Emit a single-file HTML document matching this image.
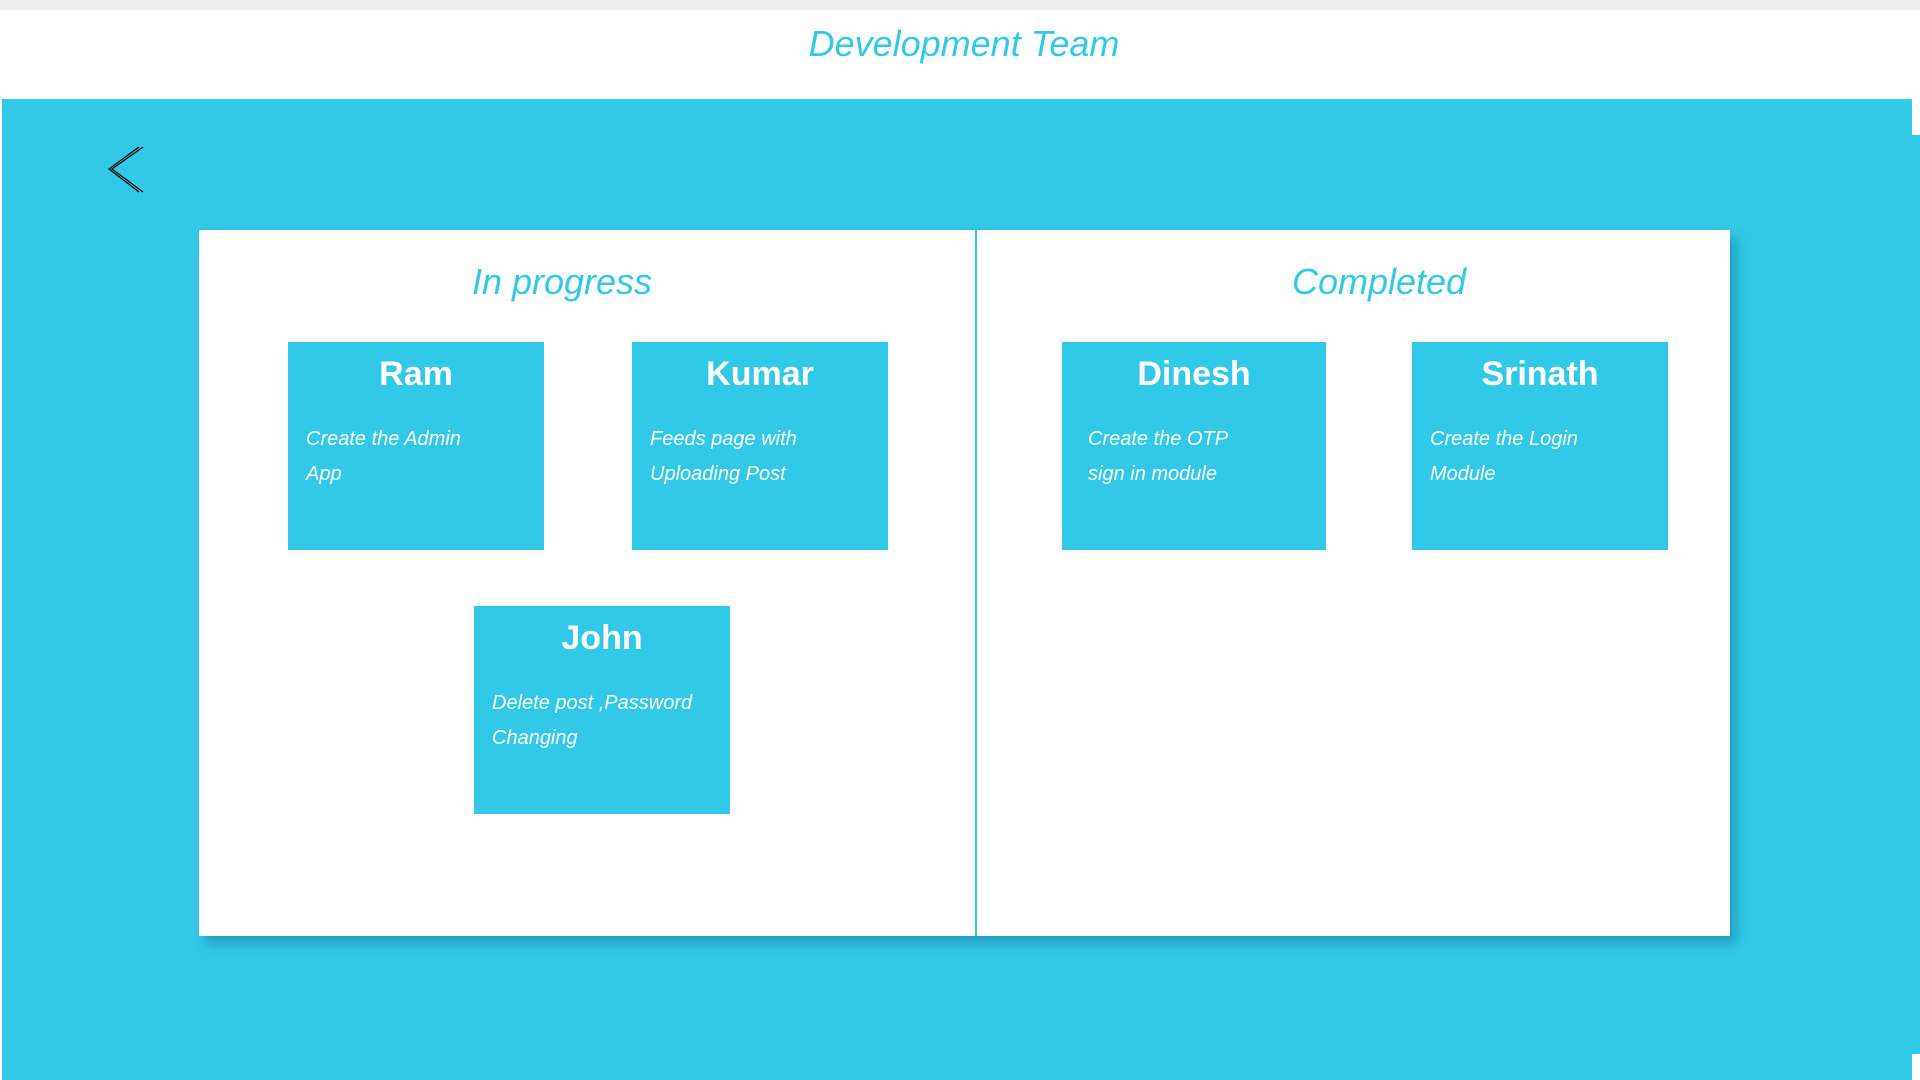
<!DOCTYPE html>
<html><head><meta charset="utf-8"><style>
*{margin:0;padding:0;box-sizing:border-box}
body{width:1920px;height:1080px;position:relative;background:#fff;overflow:hidden;font-family:"Liberation Sans","DejaVu Sans",sans-serif}
.gray{position:absolute;left:0;top:0;width:1920px;height:10px;background:#f0f0f0}
.hdr{position:absolute;left:0;top:12px;width:1912px;height:87px;text-align:center;color:#33c8e8;font-size:36px;font-style:italic;line-height:64px;padding-left:16px}
.blue{position:absolute;left:2px;top:99px;width:1910px;height:981px;background:#32c8e8}
.blue2{position:absolute;left:1912px;top:135px;width:8px;height:919px;background:#32c8e8}
.panel{position:absolute;left:199px;top:230px;width:1531px;height:706px;background:#fff;box-shadow:6px 8px 10px rgba(0,90,120,.35)}
.div{position:absolute;left:975px;top:230px;width:2px;height:706px;background:#32c8e8}
.t{position:absolute;color:#33c8e8;font-size:36px;font-style:italic;width:400px;text-align:center}
.card{position:absolute;width:256px;height:208px;background:#32c8e8;color:#fff}
.card h2{text-align:center;font-size:34px;font-weight:bold;margin-top:10px;line-height:44px}
.card p{font-size:20px;font-style:italic;line-height:35px;margin:26px 0 0 18px}
</style></head><body>
<div class="gray"></div>
<div class="hdr">Development Team</div>
<div class="blue"></div><div class="blue2"></div>
<svg style="position:absolute;left:108px;top:145px" width="40" height="50"><polyline points="35,2 4,24 35,47" fill="none" stroke="#000" stroke-width="1.2"/><polyline points="31,2 1,24 31,47" fill="none" stroke="#000" stroke-width="1.2"/></svg>
<div class="panel"></div>
<div class="div"></div>
<div class="t" style="left:362px;top:261px">In progress</div>
<div class="t" style="left:1179px;top:261px">Completed</div>
<div class="card" style="left:288px;top:342px"><h2>Ram</h2><p>Create the Admin<br>App</p></div>
<div class="card" style="left:632px;top:342px"><h2>Kumar</h2><p>Feeds page with<br>Uploading Post</p></div>
<div class="card" style="left:1062px;top:342px;width:264px"><h2>Dinesh</h2><p style="margin-left:26px">Create the OTP<br>sign in module</p></div>
<div class="card" style="left:1412px;top:342px"><h2>Srinath</h2><p>Create the Login<br>Module</p></div>
<div class="card" style="left:474px;top:606px"><h2>John</h2><p>Delete post ,Password<br>Changing</p></div>
</body></html>
